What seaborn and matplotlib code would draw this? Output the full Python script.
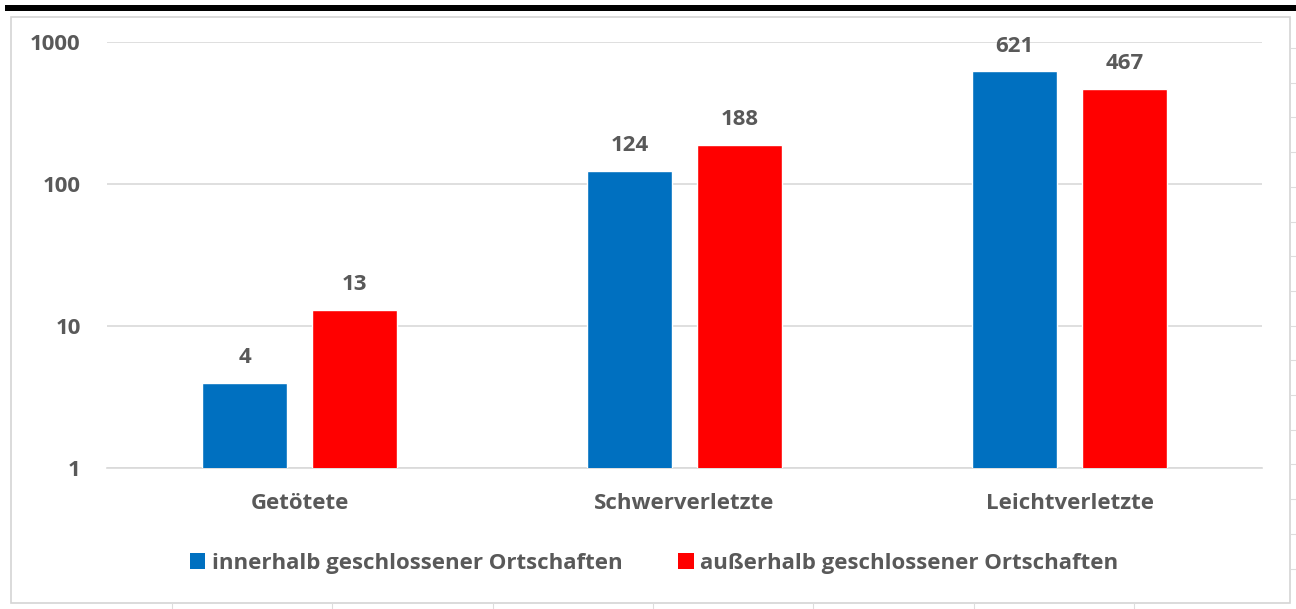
import numpy as np
import pandas as pd
import matplotlib
matplotlib.use("Agg")
import matplotlib.pyplot as plt
import seaborn as sns
from matplotlib.patches import Rectangle, Patch
from matplotlib.lines import Line2D

# --- data -------------------------------------------------------------
categories = ["Getötete", "Schwerverletzte", "Leichtverletzte"]
series_names = ["innerhalb geschlossener Ortschaften",
                "außerhalb geschlossener Ortschaften"]
innerorts = [4, 124, 621]
ausserorts = [13, 188, 467]
y_ticks = [1, 10, 100, 1000]
y_tick_labels = ["1", "10", "100", "1000"]

colors = ["#0070C0", "#FF0000"]
text_color = "#595959"
grid_color = "#D9D9D9"

df = pd.DataFrame({
    "Kategorie": categories * 2,
    "Bereich": [series_names[0]] * 3 + [series_names[1]] * 3,
    "Anzahl": innerorts + ausserorts,
})

sns.set_theme(style="white")
plt.rcParams["font.family"] = ["Open Sans", "DejaVu Sans"]
plt.rcParams["font.weight"] = "bold"
FS = 16

W, H = 1296, 609
fig = plt.figure(figsize=(W / 100, H / 100), dpi=100)
fig.patch.set_facecolor("white")

# plot area in pixel coordinates
left, right, top, bottom = 107, 1262, 42, 468
ax = fig.add_axes([left / W, 1 - bottom / H, (right - left) / W, (bottom - top) / H])

sns.barplot(data=df, x="Kategorie", y="Anzahl", hue="Bereich",
            palette=colors, width=0.571, gap=0.227, saturation=1,
            legend=False, ax=ax, zorder=3)
ax.set_yscale("log")

ax.set_ylim(1, 1000)
ax.set_xlim(-0.5, 2.5)
ax.set_yticks(y_ticks)
ax.set_yticklabels(y_tick_labels)
ax.yaxis.set_minor_locator(matplotlib.ticker.NullLocator())
ax.set_xlabel("")
ax.set_ylabel("")

ax.grid(axis="y", which="major", color=grid_color, linewidth=1.2, zorder=0)
ax.set_axisbelow(True)
for side in ["top", "right", "left"]:
    ax.spines[side].set_visible(False)
ax.spines["bottom"].set_color(grid_color)
ax.spines["bottom"].set_linewidth(1.2)

ax.tick_params(axis="y", length=0, pad=19, labelsize=FS, labelcolor=text_color)
ax.tick_params(axis="x", length=0, pad=18, labelsize=FS, labelcolor=text_color)
for lbl in ax.get_xticklabels() + ax.get_yticklabels():
    lbl.set_fontweight("bold")

for cont, vals in zip(ax.containers, [innerorts, ausserorts]):
    ax.bar_label(cont, labels=[str(v) for v in vals], padding=10.5,
                 fontsize=FS, color=text_color, fontweight="bold")

# legend below the plot area
handles = [Patch(facecolor=c, edgecolor="none") for c in colors]
fig.legend(handles, series_names, loc="center", ncol=2,
           bbox_to_anchor=(654 / W, 1 - 563 / H), frameon=False,
           handlelength=0.7, handleheight=0.7, handletextpad=0.3,
           columnspacing=2.5, prop={"size": FS, "weight": "bold"},
           labelcolor=text_color)

# chart frame and surrounding sheet decoration
fig.patches.append(Rectangle((5 / W, 1 - 11 / H), 1 - 5 / W, 6 / H,
                             transform=fig.transFigure, facecolor="black",
                             edgecolor="none"))
fig.patches.append(Rectangle((11 / W, 1 - 603 / H), 1279 / W, 586 / H,
                             transform=fig.transFigure, facecolor="none",
                             edgecolor="#D4D4D4", linewidth=1.2))
for y in np.arange(48, 600, 34.7):
    fig.lines.append(Line2D([1290 / W, 1], [1 - y / H, 1 - y / H],
                            transform=fig.transFigure, color="#DDDDDD",
                            linewidth=0.8))
for x in np.arange(172, 1290, 160.3):
    fig.lines.append(Line2D([x / W, x / W], [0, 1 - 603 / H],
                            transform=fig.transFigure, color="#DDDDDD",
                            linewidth=0.8))

fig.savefig("out.png", dpi=100, facecolor="white")
